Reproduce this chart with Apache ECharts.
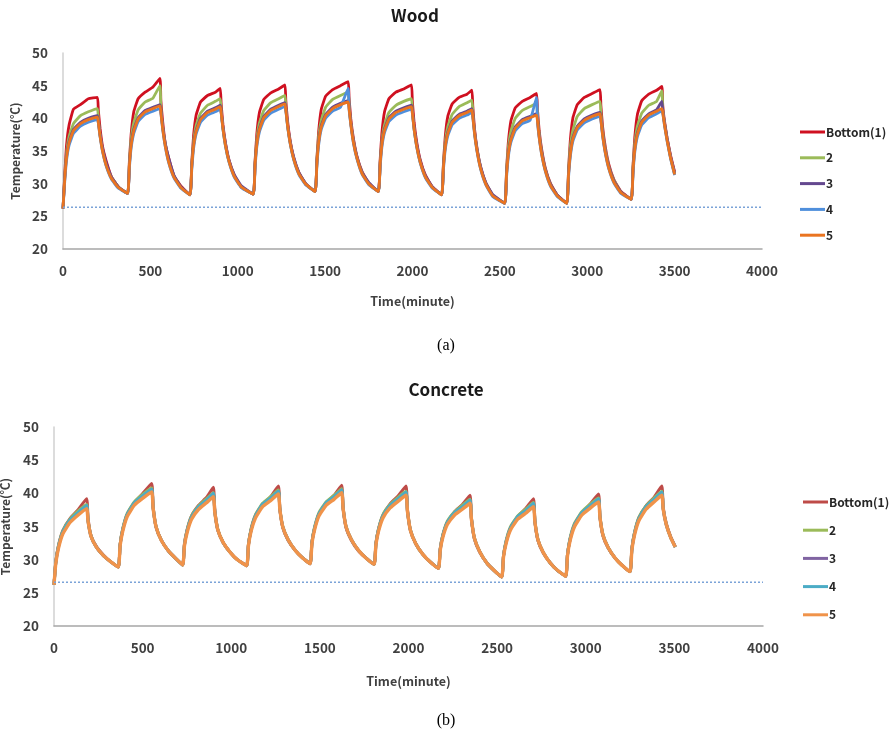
<!DOCTYPE html>
<html><head><meta charset="utf-8">
<script src="https://cdn.jsdelivr.net/npm/echarts@6/dist/echarts.min.js"></script>
<style>html,body{margin:0;padding:0;background:#fff}#c{width:895px;height:734px}</style>
</head><body><div id="c"></div>
<script>
// ---------- Wood (a) ----------
const woodTime = [
0,10,20,35,60,100,145,197,202,212,227,247,277,317,
370,380,390,405,430,470,515,555,560,570,585,605,635,675,
727,737,747,762,787,827,872,900,905,915,930,950,980,1020,
1089,1099,1109,1124,1149,1189,1234,1270,1275,1285,1300,1320,1350,1390,
1443,1453,1463,1478,1503,1543,1588,1632,1637,1647,1662,1682,1712,1752,
1805,1815,1825,1840,1865,1905,1950,1994,1999,2009,2024,2044,2074,2114,
2167,2177,2187,2202,2227,2267,2312,2340,2345,2355,2370,2390,2420,2460,
2528,2538,2548,2563,2588,2628,2673,2710,2715,2725,2740,2760,2790,2830,
2883,2893,2903,2918,2943,2983,3028,3073,3078,3088,3103,3123,3153,3193,
3252,3262,3272,3287,3312,3352,3397,3427,3432,3442,3457,3477,3500];
const woodBottom = [
26.2,31.4,35.8,39.0,41.4,42.1,43.0,43.2,41.3,38.5,35.6,33.5,31.1,29.5,
28.5,33.5,37.6,41.0,43.0,44.0,44.8,46.1,42.7,39.6,36.2,33.9,31.2,29.6,
28.3,33.2,37.3,40.5,42.5,43.5,44.0,44.6,42.3,39.1,36.2,33.6,31.3,29.5,
28.4,33.4,37.6,40.9,42.9,43.9,44.5,45.1,42.8,39.6,36.6,34.0,31.7,29.9,
28.8,33.8,38.0,41.4,43.4,44.4,45.0,45.6,43.2,39.9,36.9,34.2,31.8,30.0,
28.8,33.7,37.8,41.0,43.0,44.0,44.5,45.1,42.7,39.4,36.4,33.7,31.3,29.5,
28.3,33.1,37.1,40.3,42.2,43.2,43.7,44.3,41.9,38.4,35.3,32.5,30.1,28.2,
27.0,32.0,36.2,39.6,41.6,42.6,43.2,43.8,41.4,38.1,35.1,32.4,30.0,28.2,
27.0,32.2,36.6,40.1,42.1,43.2,43.8,44.4,42.0,38.7,35.7,33.0,30.6,28.8,
27.6,32.8,37.1,40.6,42.7,43.7,44.3,44.9,42.0,39.6,37.0,34.3,31.8];
const wood2 = [
26.2,31.1,34.6,37.2,39.2,40.4,41.0,41.5,40.0,37.5,35.1,32.9,31.0,29.5,
28.5,33.3,36.8,39.3,41.3,42.5,43.1,45.0,41.7,38.8,36.1,33.5,31.2,29.4,
28.3,33.0,36.4,38.9,40.8,42.0,42.6,43.0,41.2,38.5,35.8,33.4,31.2,29.5,
28.4,33.2,36.7,39.3,41.2,42.4,43.0,43.5,41.7,38.9,36.3,33.8,31.6,29.9,
28.8,33.7,37.2,39.7,41.7,42.9,43.5,44.0,42.2,39.3,36.6,34.0,31.7,29.9,
28.8,33.3,36.6,39.0,40.9,42.0,42.6,43.0,41.2,38.4,35.8,33.3,31.1,29.4,
28.3,32.9,36.3,38.7,40.6,41.8,42.4,42.8,40.9,37.9,35.1,32.4,30.0,28.2,
27.0,31.9,35.4,38.0,40.0,41.2,41.8,42.3,40.5,37.6,34.8,32.2,29.9,28.1,
27.0,32.0,35.6,38.2,40.3,41.5,42.1,42.6,40.8,38.0,35.3,32.7,30.5,28.7,
27.6,32.6,36.1,38.8,40.8,42.0,42.6,44.2,41.4,39.3,36.8,34.0,31.5];
const wood3 = [
26.2,30.9,34.1,36.5,38.3,39.4,40.0,40.4,39.6,37.5,35.3,33.2,31.0,29.5,
28.5,33.0,36.1,38.3,40.1,41.2,41.7,42.1,41.2,38.8,36.2,33.9,31.3,29.5,
28.3,32.8,35.9,38.2,40.0,41.1,41.6,42.0,41.1,38.7,36.1,33.6,31.4,29.7,
28.4,33.0,36.2,38.5,40.3,41.4,42.0,42.4,41.5,39.1,36.4,34.1,31.7,30.0,
28.8,33.4,36.5,38.9,40.6,41.7,42.3,42.7,41.8,39.3,36.6,34.1,31.7,30.1,
28.8,33.2,36.2,38.4,40.1,41.1,41.6,42.0,41.2,38.7,36.0,33.5,31.2,29.5,
28.3,32.7,35.7,37.9,39.6,40.6,41.1,41.5,40.6,38.0,35.1,32.6,30.1,28.3,
27.0,31.5,34.6,36.9,38.7,39.8,40.3,40.7,39.9,37.3,34.7,32.2,29.9,28.2,
27.0,31.6,34.7,37.1,38.8,39.9,40.5,40.9,40.0,37.6,35.0,32.6,30.4,28.7,
27.6,32.2,35.4,37.8,39.6,40.7,41.3,42.6,41.2,39.3,36.9,34.1,31.6];
const wood4 = [
26.2,30.3,33.5,35.9,37.7,38.8,39.4,39.8,39.3,37.2,34.8,32.7,30.7,29.3,
28.5,32.4,35.5,37.7,39.5,40.6,41.1,41.5,40.8,38.4,35.7,33.2,30.9,29.3,
28.3,32.2,35.3,37.6,39.4,40.5,41.0,41.4,40.8,38.4,35.7,33.3,31.0,29.4,
28.4,32.4,35.6,37.9,39.7,40.8,41.4,41.8,41.2,38.8,36.1,33.7,31.4,29.8,
28.8,32.8,35.9,38.3,40.0,41.1,41.7,44.6,41.4,39.0,36.2,33.8,31.4,29.8,
28.8,32.6,35.6,37.8,39.5,40.5,41.0,41.4,40.8,38.3,35.6,33.2,30.9,29.3,
28.3,32.1,35.1,37.3,39.0,40.0,40.5,40.9,40.2,37.6,34.8,32.2,29.8,28.0,
27.0,30.9,34.0,36.3,38.1,39.2,39.7,43.2,39.5,37.0,34.3,31.9,29.6,28.0,
27.0,31.0,34.1,36.5,38.2,39.3,39.9,40.3,39.7,37.3,34.7,32.3,30.1,28.5,
27.6,31.6,34.8,37.2,39.0,40.1,40.7,41.1,40.8,38.9,36.5,33.8,31.3];
const wood5 = [
26.2,30.7,33.9,36.3,38.1,39.2,39.8,40.2,39.4,37.3,34.9,32.8,30.8,29.4,
28.5,32.8,35.9,38.1,39.9,41.0,41.5,41.9,40.9,38.5,35.8,33.3,31.0,29.4,
28.3,32.6,35.7,38.0,39.8,40.9,41.4,41.8,40.9,38.5,35.8,33.4,31.1,29.5,
28.4,32.8,36.0,38.3,40.1,41.2,41.8,42.2,41.3,38.9,36.2,33.8,31.5,29.9,
28.8,33.2,36.3,38.7,40.4,41.5,42.1,42.5,41.5,39.1,36.3,33.9,31.5,29.9,
28.8,33.0,36.0,38.2,39.9,40.9,41.4,41.8,40.9,38.4,35.7,33.3,31.0,29.4,
28.3,32.5,35.5,37.7,39.4,40.4,40.9,41.3,40.3,37.7,34.9,32.3,29.9,28.1,
27.0,31.3,34.4,36.7,38.5,39.6,40.1,40.5,39.6,37.1,34.4,32.0,29.7,28.1,
27.0,31.4,34.5,36.9,38.6,39.7,40.3,40.7,39.8,37.4,34.8,32.4,30.2,28.6,
27.6,32.0,35.2,37.6,39.4,40.5,41.1,41.5,40.9,39.0,36.6,33.9,31.4];
const woodAmbientTime = [0, 4000];
const woodAmbient = [26.4, 26.4];

// ---------- Concrete (b) ----------
const concTime = [
0,10,25,50,90,135,184,192,209,239,279,319,
363,373,388,413,453,498,551,559,576,606,646,686,
726,736,751,776,816,861,899,907,924,954,994,1034,
1087,1097,1112,1137,1177,1222,1266,1274,1291,1321,1361,1401,
1445,1455,1470,1495,1535,1580,1623,1631,1648,1678,1718,1758,
1806,1816,1831,1856,1896,1941,1986,1994,2011,2041,2081,2121,
2169,2179,2194,2219,2259,2304,2347,2355,2372,2402,2442,2482,
2526,2536,2551,2576,2616,2661,2705,2713,2730,2760,2800,2840,
2887,2897,2912,2937,2977,3022,3072,3080,3097,3127,3167,3207,
3250,3260,3275,3300,3340,3385,3429,3437,3454,3480,3505];
const concBottom = [
26.2,29.7,32.1,34.4,36.2,37.5,39.2,36.3,33.6,32.0,30.7,29.7,
28.9,32.3,34.6,36.8,38.6,39.9,41.5,38.1,34.9,32.9,31.3,30.2,
29.2,32.4,34.5,36.6,38.2,39.4,40.9,37.6,34.5,32.6,31.1,30.0,
29.1,32.3,34.5,36.7,38.3,39.5,41.1,37.8,34.8,32.9,31.4,30.3,
29.4,32.6,34.7,36.8,38.5,39.7,41.2,37.9,34.8,32.9,31.3,30.3,
29.3,32.5,34.6,36.7,38.4,39.6,41.1,37.6,34.4,32.4,30.8,29.7,
28.7,31.7,33.7,35.6,37.2,38.3,39.7,36.3,33.1,31.1,29.5,28.4,
27.4,30.6,32.7,34.8,36.5,37.7,39.2,35.9,32.9,31.0,29.5,28.4,
27.5,30.8,33.1,35.3,37.0,38.3,39.9,36.6,33.6,31.7,30.2,29.1,
28.2,31.7,34.0,36.3,38.1,39.4,41.1,37.9,35.5,33.4,32.0];
const conc2 = [
26.2,29.6,32.1,34.4,36.1,37.3,38.3,35.9,33.6,31.9,30.6,29.7,
28.9,32.3,34.7,37.0,38.7,39.8,40.8,37.9,35.0,32.9,31.3,30.2,
29.2,32.3,34.5,36.6,38.1,39.2,40.1,37.3,34.6,32.6,31.1,30.0,
29.1,32.3,34.7,36.8,38.5,39.5,40.5,37.7,35.0,33.0,31.4,30.3,
29.4,32.6,34.9,37.1,38.7,39.7,40.7,37.8,35.0,33.0,31.4,30.3,
29.3,32.4,34.7,36.8,38.3,39.4,40.3,37.4,34.5,32.4,30.8,29.7,
28.7,31.6,33.8,35.8,37.2,38.2,39.1,36.2,33.3,31.2,29.5,28.4,
27.4,30.6,32.9,35.0,36.6,37.6,38.6,35.8,33.1,31.1,29.5,28.4,
27.5,30.8,33.3,35.5,37.2,38.3,39.3,36.5,33.8,31.8,30.2,29.1,
28.2,31.6,34.1,36.4,38.1,39.3,40.3,37.7,35.4,33.3,31.9];
const conc3 = [
26.2,29.5,31.9,34.2,35.9,37.0,38.1,35.8,33.5,31.9,30.6,29.7,
28.9,32.2,34.5,36.8,38.5,39.5,40.6,37.8,34.9,32.9,31.3,30.2,
29.2,32.2,34.3,36.4,37.9,38.9,39.9,37.2,34.5,32.6,31.1,30.0,
29.1,32.2,34.5,36.6,38.3,39.2,40.3,37.6,34.9,33.0,31.4,30.3,
29.4,32.5,34.7,36.9,38.5,39.4,40.5,37.7,34.9,33.0,31.4,30.3,
29.3,32.3,34.5,36.6,38.1,39.1,40.1,37.3,34.4,32.4,30.8,29.7,
28.7,31.5,33.6,35.6,37.0,37.9,38.9,36.1,33.2,31.2,29.5,28.4,
27.4,30.5,32.7,34.8,36.4,37.3,38.4,35.7,33.0,31.1,29.5,28.4,
27.5,30.7,33.1,35.3,37.0,38.0,39.1,36.4,33.7,31.8,30.2,29.1,
28.2,31.5,33.9,36.2,37.9,39.0,40.1,37.6,35.3,33.3,31.9];
const conc4 = [
26.2,29.5,32.0,34.2,36.0,37.1,38.2,35.9,33.5,31.9,30.6,29.7,
28.9,32.2,34.6,36.8,38.6,39.6,40.6,37.9,34.9,32.9,31.3,30.2,
29.2,32.2,34.4,36.4,38.0,39.0,40.0,37.3,34.5,32.6,31.1,30.0,
29.1,32.2,34.5,36.6,38.4,39.3,40.3,37.7,34.9,33.0,31.4,30.3,
29.4,32.5,34.8,36.9,38.6,39.5,40.5,37.8,34.9,33.0,31.4,30.3,
29.3,32.3,34.6,36.6,38.2,39.2,40.2,37.4,34.4,32.4,30.8,29.7,
28.7,31.5,33.7,35.6,37.1,38.0,39.0,36.2,33.2,31.2,29.5,28.4,
27.4,30.5,32.8,34.8,36.5,37.4,38.5,35.8,33.0,31.1,29.5,28.4,
27.5,30.7,33.2,35.3,37.1,38.1,39.2,36.5,33.7,31.8,30.2,29.1,
28.2,31.5,34.0,36.2,38.0,39.1,40.2,37.7,35.3,33.3,31.9];
const conc5 = [
26.2,29.4,31.7,33.9,35.6,36.7,37.7,35.8,33.5,31.9,30.6,29.7,
28.9,32.1,34.3,36.5,38.2,39.2,40.2,37.8,34.9,32.9,31.3,30.2,
29.2,32.1,34.1,36.1,37.6,38.6,39.5,37.2,34.5,32.6,31.1,30.0,
29.1,32.1,34.3,36.3,38.0,38.9,39.9,37.6,34.9,33.0,31.4,30.3,
29.4,32.4,34.5,36.6,38.2,39.1,40.1,37.7,34.9,33.0,31.4,30.3,
29.3,32.2,34.3,36.3,37.8,38.8,39.7,37.3,34.4,32.4,30.8,29.7,
28.7,31.4,33.4,35.3,36.7,37.6,38.5,36.1,33.2,31.2,29.5,28.4,
27.4,30.4,32.5,34.5,36.1,37.0,38.0,35.7,33.0,31.1,29.5,28.4,
27.5,30.6,32.9,35.0,36.7,37.7,38.7,36.4,33.7,31.8,30.2,29.1,
28.2,31.4,33.7,35.9,37.6,38.7,39.7,37.6,35.3,33.3,31.9];
const concAmbientTime = [0, 4000];
const concAmbient = [26.6, 26.6];

const seriesNames = ['Bottom(1)', '2', '3', '4', '5'];
const xTicks = { min: 0, max: 4000, interval: 500 };
const yTicks = { min: 20, max: 50, interval: 5 };

const woodColors = ['#CF1020', '#9BBB59', '#64488F', '#4F8FDC', '#EA7420'];
const concColors = ['#BE4B48', '#9BBB59', '#8064A2', '#4BACC6', '#F0934A'];

const zip = (xs, ys) => xs.map((x, i) => [x, ys[i]]);
const FONT = 'Noto Sans CJK KR';

function mkAxes(gridIndex, nameGapX, nameGapY) {
  const lab = { fontFamily: FONT, fontWeight: 'bold', fontSize: 13.5, color: '#404040' };
  return {
    x: {
      type: 'value', gridIndex, min: xTicks.min, max: xTicks.max, interval: xTicks.interval,
      name: 'Time(minute)', nameLocation: 'middle', nameGap: nameGapX,
      nameTextStyle: { fontFamily: FONT, fontWeight: 'bold', fontSize: 12.5, color: '#404040' },
      axisLine: { show: true, lineStyle: { color: '#a6a6a6', width: 1.5 } },
      axisTick: { show: false }, splitLine: { show: false },
      axisLabel: Object.assign({ margin: 15, formatter: v => String(v) }, lab)
    },
    y: {
      type: 'value', gridIndex, min: yTicks.min, max: yTicks.max, interval: yTicks.interval,
      name: 'Temperature(℃)', nameLocation: 'middle', nameGap: nameGapY, nameRotate: 90,
      nameTextStyle: { fontFamily: FONT, fontWeight: 'bold', fontSize: 12, color: '#404040' },
      axisLine: { show: true, lineStyle: { color: '#d0d0d0', width: 1.5 } },
      axisTick: { show: false }, splitLine: { show: false },
      axisLabel: Object.assign({ margin: 15, formatter: v => String(v) }, lab)
    }
  };
}
const a0 = mkAxes(0, 46, 42);
const a1 = mkAxes(1, 49, 43);

const woodSets = [woodBottom, wood2, wood3, wood4, wood5];
const concSets = [concBottom, conc2, conc3, conc4, conc5];
const series = [];
woodSets.forEach((vals, i) => series.push({
  name: seriesNames[i], type: 'line', xAxisIndex: 0, yAxisIndex: 0,
  data: zip(woodTime, vals), showSymbol: false, symbol: 'none',
  smooth: 0.12,
  lineStyle: { color: woodColors[i], width: 2.8 }, itemStyle: { color: woodColors[i] },
  animation: false
}));
series.push({ name: 'ambientW', type: 'line', xAxisIndex: 0, yAxisIndex: 0, data: zip(woodAmbientTime, woodAmbient),
  symbol: 'none', silent: true, lineStyle: { color: '#7BA3D8', width: 1.6, type: [2, 2] }, animation: false });
concSets.forEach((vals, i) => series.push({
  name: seriesNames[i] + ' ', type: 'line', xAxisIndex: 1, yAxisIndex: 1,
  data: zip(concTime, vals), showSymbol: false, symbol: 'none',
  smooth: 0.15,
  lineStyle: { color: concColors[i], width: i === 4 ? 3.4 : 3 }, itemStyle: { color: concColors[i] },
  animation: false
}));
series.push({ name: 'ambientC', type: 'line', xAxisIndex: 1, yAxisIndex: 1, data: zip(concAmbientTime, concAmbient),
  symbol: 'none', silent: true, lineStyle: { color: '#7BA3D8', width: 1.6, type: [2, 2] }, animation: false });

const legendText = { fontFamily: FONT, fontWeight: 'bold', fontSize: 12, color: '#262626', lineHeight: 14, padding: [0, 0, 0, -4] };
const chart = echarts.init(document.getElementById('c'), null, { renderer: 'canvas' });
chart.setOption({
  animation: false,
  backgroundColor: '#fff',
  title: [
    { text: 'Wood', left: 410, top: 2, textAlign: 'center', textStyle: { fontFamily: FONT, fontWeight: 'bold', fontSize: 17, color: '#1a1a1a' } },
    { text: 'Concrete', left: 441, top: 376, textAlign: 'center', textStyle: { fontFamily: FONT, fontWeight: 'bold', fontSize: 17, color: '#1a1a1a' } },
    { text: '(a)', left: 441, top: 333, textAlign: 'center', textStyle: { fontFamily: 'Liberation Serif', fontWeight: 'normal', fontSize: 16, color: '#000' } },
    { text: '(b)', left: 441, top: 708, textAlign: 'center', textStyle: { fontFamily: 'Liberation Serif', fontWeight: 'normal', fontSize: 16, color: '#000' } }
  ],
  grid: [
    { left: 63, top: 53, width: 699, height: 196, outerBoundsMode: 'none', containLabel: false },
    { left: 54, top: 427, width: 709, height: 199, outerBoundsMode: 'none', containLabel: false }
  ],
  xAxis: [a0.x, a1.x],
  yAxis: [a0.y, a1.y],
  legend: [
    { data: seriesNames, orient: 'vertical', left: 795, top: 120, icon: 'rect', itemWidth: 25, itemHeight: 3,
      itemGap: 11.8, textStyle: legendText, selectedMode: false },
    { data: seriesNames.map(n => n + ' '), orient: 'vertical', left: 798, top: 490, icon: 'rect', itemWidth: 25, itemHeight: 3,
      itemGap: 14.2, textStyle: legendText, selectedMode: false }
  ],
  series
});
</script></body></html>
